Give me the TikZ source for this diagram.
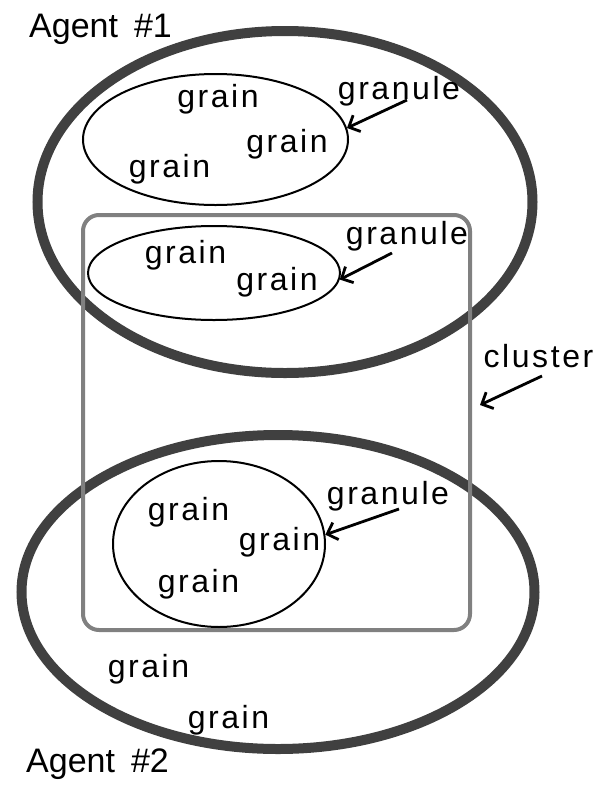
\documentclass[tikz,border=0pt]{standalone}
\usepackage{fontspec}
\setmainfont{Liberation Sans}
\newfontfamily\labelfont[LetterSpace=8]{Liberation Sans}
\usetikzlibrary{shapes.geometric,arrows.meta}
\definecolor{agentgray}{HTML}{404040}
\definecolor{clustergray}{HTML}{808080}
\tikzset{
  agent/.style={ellipse,draw=agentgray,line width=10pt,inner sep=0pt},
  granule/.style={ellipse,draw=black,line width=2pt,inner sep=0pt},
  clusterbox/.style={rectangle,draw=clustergray,line width=4pt,rounded corners=16pt,inner sep=0pt},
  lbl/.style={inner sep=0pt,anchor=base,font=\labelfont\fontsize{32}{38}\selectfont},
  agentlbl/.style={inner sep=0pt,anchor=base west,font=\fontsize{34}{40}\selectfont},
  pointer/.style={line width=2.8pt,-{Straight Barb[length=9pt,width=18pt]}}
}
\begin{document}
\begin{tikzpicture}[x=1pt,y=-1pt]
\useasboundingbox (0,0) rectangle (608,788);
% the two agents
\node[agent,minimum width=495pt,minimum height=342pt] (a1) at (285,202) {};
\node[agent,minimum width=513pt,minimum height=314pt] (a2) at (278,592) {};
% the cluster shared by both agents
\node[clusterbox,minimum width=387pt,minimum height=415pt] (cl) at (276.5,422.5) {};
% granules
\node[granule,minimum width=265pt,minimum height=131pt] (g1) at (215.5,139.5) {};
\node[granule,minimum width=252pt,minimum height=94pt] (g2) at (214,273) {};
\node[granule,minimum width=212pt,minimum height=166pt] (g3) at (219,544) {};
% grains
\node[lbl] (r1) at (218,107) {grain};
\node[lbl] (r2) at (287,152) {grain};
\node[lbl] (r3) at (169.5,177) {grain};
\node[lbl] (r4) at (185.5,263) {grain};
\node[lbl] (r5) at (277,290) {grain};
\node[lbl] (r6) at (188.5,520) {grain};
\node[lbl] (r7) at (279.5,550) {grain};
\node[lbl] (r8) at (198.5,592) {grain};
\node[lbl] (r9) at (148.5,677) {grain};
\node[lbl] (r10) at (228.5,728) {grain};
% captions
\node[agentlbl] (t1) at (29,37) {Agent\hspace{16pt}\#1};
\node[agentlbl] (t2) at (26,772) {Agent\hspace{16pt}\#2};
\node[lbl] (n1) at (399,99) {granule};
\node[lbl] (n2) at (407,244) {granule};
\node[lbl] (n3) at (388,504) {granule};
\node[lbl] (cn) at (538.5,367) {cluster};
% pointers
\coordinate (p1) at (407,100);
\coordinate (p2) at (392,253);
\coordinate (p3) at (399,509);
\coordinate (p4) at (542,376);
\coordinate (q4) at (480,405);
\draw[pointer] (p1) -- (g1.5);
\draw[pointer] (p2) -- (g2.-3);
\draw[pointer] (p3) -- (g3.5);
\draw[pointer] (p4) -- (q4);
\end{tikzpicture}
\end{document}
